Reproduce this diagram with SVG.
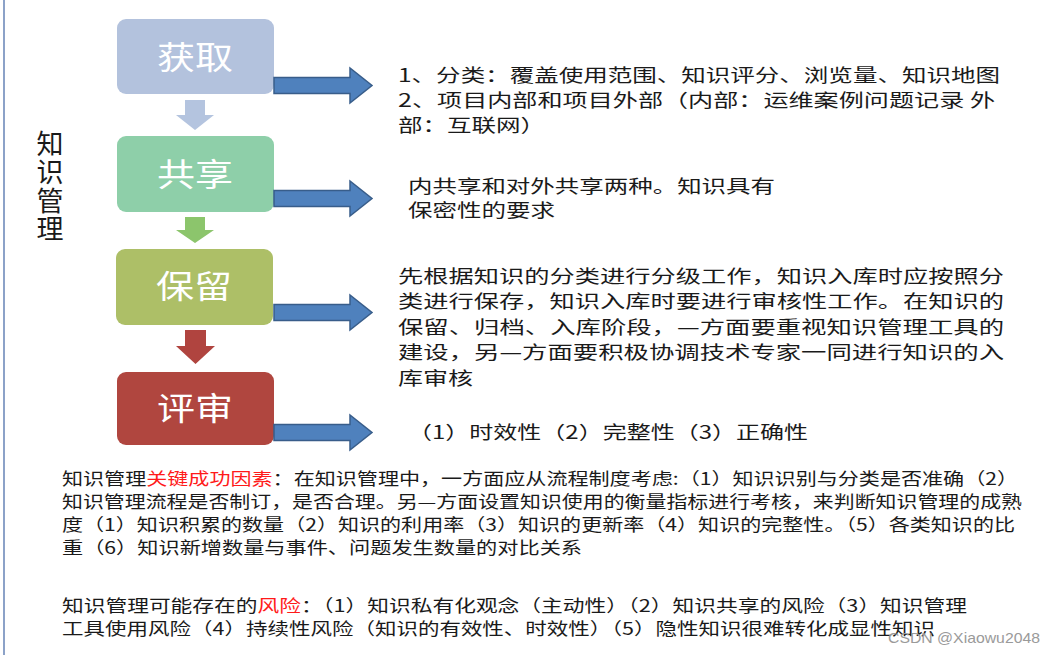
<svg xmlns="http://www.w3.org/2000/svg" width="1054" height="655" viewBox="0 0 1054 655">
<style>
.cjk{font-family:"Noto Sans CJK SC","Noto Sans",sans-serif;}
.t{font-size:18px;fill:#1a1a1a;}
.b{font-size:17px;fill:#1a1a1a;}
.red{fill:#ff1a1a;}
.lbl{font-size:32px;fill:#ffffff;text-anchor:middle;}
.side{font-size:27px;fill:#1a1a1a;writing-mode:vertical-rl;letter-spacing:1.5px;}
.rarrow{fill:#4f81bd;stroke:#385d8a;stroke-width:1.5;}
.wm{font-family:"Liberation Sans",Arial,sans-serif;font-size:15px;fill:#9a9a9a;}
</style>
<rect x="0" y="0" width="1054" height="655" fill="#ffffff"/>
<line x1="4" y1="0" x2="4" y2="655" stroke="#8ca2c8" stroke-width="2"/>

<g id="side-label">
<text class="cjk side" x="50" y="130">知识管理</text>
</g>

<g id="node-acquire">
<rect x="117" y="19" width="157" height="75" rx="9" fill="#b3c2dd"/>
<text class="cjk lbl" x="195" y="69" textLength="76" lengthAdjust="spacingAndGlyphs">获取</text>
</g>
<g id="node-share">
<rect x="117" y="136" width="157" height="76" rx="9" fill="#8ecfa9"/>
<text class="cjk lbl" x="195" y="186" textLength="76" lengthAdjust="spacingAndGlyphs">共享</text>
</g>
<g id="node-retain">
<rect x="116" y="249" width="157" height="76" rx="9" fill="#adbf67"/>
<text class="cjk lbl" x="194" y="298" textLength="76" lengthAdjust="spacingAndGlyphs">保留</text>
</g>
<g id="node-review">
<rect x="117" y="372" width="157" height="73" rx="9" fill="#b0463f"/>
<text class="cjk lbl" x="195" y="420" textLength="76" lengthAdjust="spacingAndGlyphs">评审</text>
</g>

<g id="connectors">
<polygon points="185,100 205,100 205,115 214,115 195,130 176,115 185,115" fill="#b4c4df"/>
<polygon points="185,217 205,217 205,230 214,230 195,243 176,230 185,230" fill="#8cc56c"/>
<polygon points="185,330 206,330 206,346 215,346 195.5,364 176,346 185,346" fill="#b0443f"/>
<polygon class="rarrow" points="274,77.5 350,77.5 350,68 372,85.5 350,103 350,93.5 274,93.5"/>
<polygon class="rarrow" points="274,190.5 350,190.5 350,181 372,198.5 350,216 350,206.5 274,206.5"/>
<polygon class="rarrow" points="274,304.5 350,304.5 350,295 372,312.5 350,330 350,320.5 274,320.5"/>
<polygon class="rarrow" points="274,424.5 350,424.5 350,415 372,432.5 350,450 350,440.5 274,440.5"/>
</g>

<g id="desc-acquire" class="cjk t">
<text x="398" y="81.8" textLength="602" lengthAdjust="spacingAndGlyphs">1、分类：覆盖使用范围、知识评分、浏览量、知识地图</text>
<text x="398" y="106.8" textLength="597" lengthAdjust="spacingAndGlyphs">2、项目内部和项目外部（内部：运维案例问题记录 外</text>
<text x="398" y="131.8" textLength="147" lengthAdjust="spacingAndGlyphs">部：互联网）</text>
</g>
<g id="desc-share" class="cjk t">
<text x="408" y="192.8" textLength="367" lengthAdjust="spacingAndGlyphs">内共享和对外共享两种。知识具有</text>
<text x="408" y="217.3" textLength="147" lengthAdjust="spacingAndGlyphs">保密性的要求</text>
</g>
<g id="desc-retain" class="cjk t">
<text x="398" y="282.8" textLength="606" lengthAdjust="spacingAndGlyphs">先根据知识的分类进行分级工作，知识入库时应按照分</text>
<text x="398" y="308.3" textLength="606" lengthAdjust="spacingAndGlyphs">类进行保存，知识入库时要进行审核性工作。在知识的</text>
<text x="398" y="333.8" textLength="606" lengthAdjust="spacingAndGlyphs">保留、归档、入库阶段，—方面要重视知识管理工具的</text>
<text x="398" y="359.3" textLength="606" lengthAdjust="spacingAndGlyphs">建设，另—方面要积极协调技术专家一同进行知识的入</text>
<text x="398" y="384.8" textLength="75" lengthAdjust="spacingAndGlyphs">库审核</text>
</g>
<g id="desc-review" class="cjk t">
<text x="408" y="438.8" textLength="400" lengthAdjust="spacingAndGlyphs">（1）时效性（2）完整性（3）正确性</text>
</g>

<g id="success-factors" class="cjk b">
<text x="62" y="484.5" textLength="956" lengthAdjust="spacingAndGlyphs">知识管理<tspan class="red">关键成功因素</tspan>：在知识管理中，一方面应从流程制度考虑:（1）知识识别与分类是否准确（2）</text>
<text x="62" y="507.5" textLength="960" lengthAdjust="spacingAndGlyphs">知识管理流程是否制订，是否合理。另—方面设置知识使用的衡量指标进行考核，来判断知识管理的成熟</text>
<text x="62" y="530.5" textLength="953" lengthAdjust="spacingAndGlyphs">度（1）知识积累的数量（2）知识的利用率（3）知识的更新率（4）知识的完整性。（5）各类知识的比</text>
<text x="62" y="553.5" textLength="520" lengthAdjust="spacingAndGlyphs">重（6）知识新增数量与事件、问题发生数量的对比关系</text>
</g>
<g id="risks" class="cjk b">
<text x="62" y="611.5" textLength="905" lengthAdjust="spacingAndGlyphs">知识管理可能存在的<tspan class="red">风险</tspan>：（1）知识私有化观念（主动性）（2）知识共享的风险（3）知识管理</text>
<text x="62" y="634.5" textLength="873" lengthAdjust="spacingAndGlyphs">工具使用风险（4）持续性风险（知识的有效性、时效性）（5）隐性知识很难转化成显性知识</text>
</g>

<text class="wm" x="888" y="643" textLength="152" lengthAdjust="spacingAndGlyphs">CSDN @Xiaowu2048</text>
</svg>
